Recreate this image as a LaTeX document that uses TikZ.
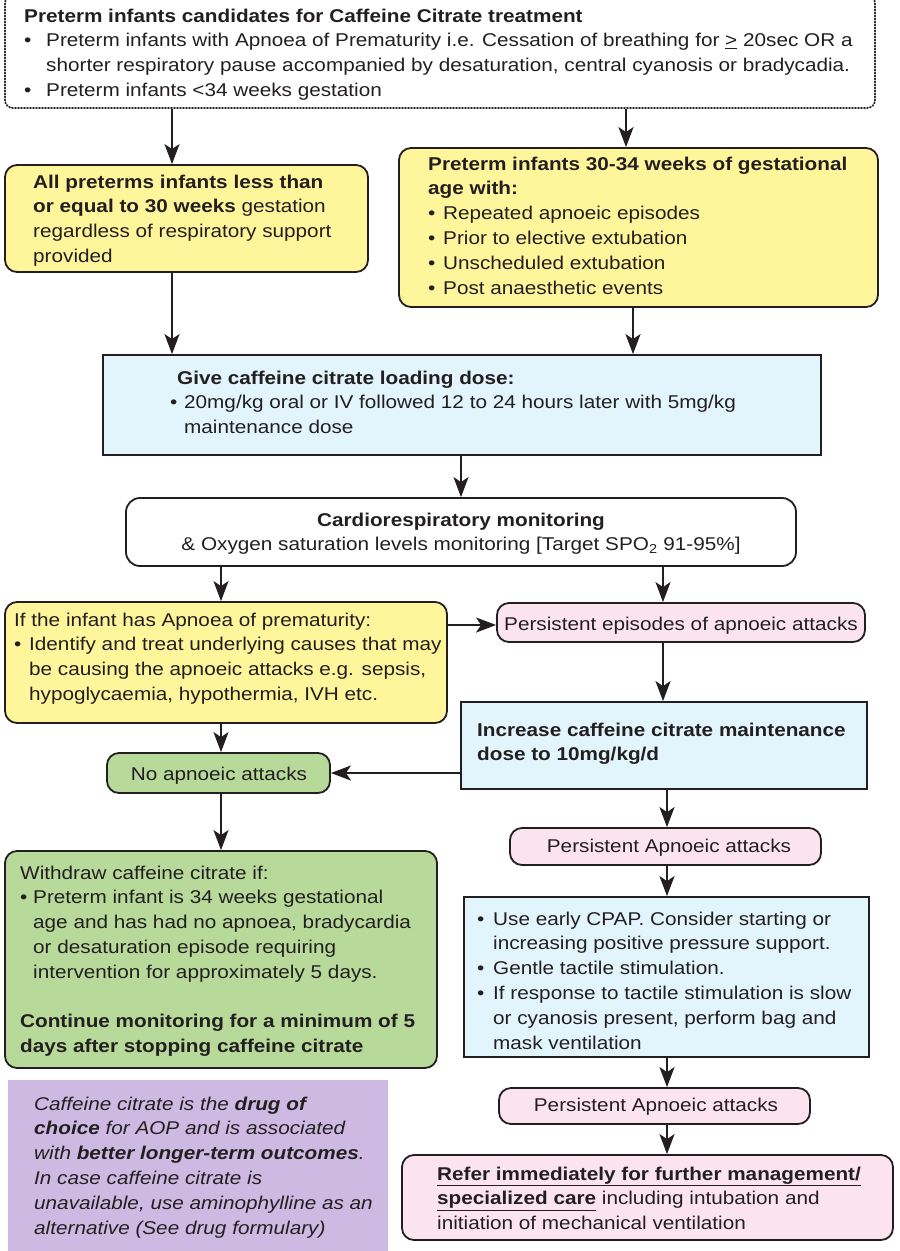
\documentclass[tikz,border=0pt]{standalone}
\usepackage{fontspec}
\setmainfont{Liberation Sans}[FakeStretch=1.12]
\usetikzlibrary{arrows.meta,fit}
\definecolor{bord}{HTML}{231F20}
\definecolor{yel}{HTML}{FFF59B}
\definecolor{blu}{HTML}{E2F4FC}
\definecolor{pnk}{HTML}{FCE4EE}
\definecolor{grn}{HTML}{B7D99A}
\definecolor{pur}{HTML}{CDB9E2}
\newcommand{\tf}{\fontsize{18.5}{24.8}\selectfont}
\newcommand{\bu}[1]{\makebox[#1][l]{\textbullet}}
\begin{document}
\begin{tikzpicture}[x=1pt,y=-1pt,
  box/.style={draw=bord, line width=1.8pt, inner sep=0pt},
  rbox/.style={box, rounded corners=12pt},
  dotbox/.style={draw=bord, line width=1.8pt, dash pattern=on 0.9pt off 2.1pt, line cap=round, rounded corners=8pt, inner sep=0pt},
  yb/.style={rbox, fill=yel},
  bb/.style={box, fill=blu},
  pb/.style={rbox, fill=pnk},
  gb/.style={rbox, fill=grn},
  wb/.style={rbox, rounded corners=14pt, fill=white},
  pub/.style={inner sep=0pt, fill=pur},
  txt/.style={inner sep=0pt, font=\tf, text=bord, anchor=base west},
  ctxt/.style={txt, anchor=base},
  arr/.style={draw=bord, line width=1.8pt, -{Stealth[length=20pt,width=15pt,inset=5pt]}}
]
\useasboundingbox (0,0) rectangle (900,1251);
\fill[white] (0,0) rectangle (900,1251);

% boxes
\node[dotbox, fit={(5,-5) (875,108)}] (top) {};
\node[yb, fit={(5,165) (368,272)}] (yl) {};
\node[yb, fit={(399,148) (878,307)}] (yr) {};
\node[bb, fit={(103,355) (821,455)}] (b1) {};
\node[wb, fit={(126,498) (796,566)}] (w) {};
\node[yb, fit={(5,602) (447,723)}] (y3) {};
\node[pb, fit={(497,603) (865,642)}] (p1) {};
\node[bb, fit={(461,702) (867,789)}] (b2) {};
\node[gb, fit={(107,753) (330,793)}] (g1) {};
\node[gb, fit={(5,851) (437,1068)}] (g2) {};
\node[pb, fit={(510,828) (821,865)}] (p2) {};
\node[bb, fit={(464,897) (869,1057)}] (b3) {};
\node[pb, fit={(499,1088) (810,1124)}] (p3) {};
\node[pb, fit={(402,1155) (893,1240)}] (p4) {};
\node[pub, fit={(8,1080) (388,1256)}] (pu) {};

% texts
\node[txt] (ttop) at (24,22) {\begin{tabular}[t]{@{}l@{}l@{}}
\multicolumn{2}{@{}l@{}}{\textbf{Preterm infants candidates for Caffeine Citrate treatment}}\\
\bu{22pt}&Preterm infants with Apnoea of Prematurity i.e. Cessation of breathing for \underline{>} 20sec OR a\\
&shorter respiratory pause accompanied by desaturation, central cyanosis or bradycadia.\\
\bu{22pt}&Preterm infants <34 weeks gestation
\end{tabular}};

\node[txt] (tyl) at (33,188) {\begin{tabular}[t]{@{}l@{}}
\textbf{All preterms infants less than}\\
\textbf{or equal to 30 weeks} gestation\\
regardless of respiratory support\\
provided
\end{tabular}};

\node[txt] (tyr) at (428,170) {\begin{tabular}[t]{@{}l@{}l@{}}
\multicolumn{2}{@{}l@{}}{\textbf{Preterm infants 30-34 weeks of gestational}}\\
\multicolumn{2}{@{}l@{}}{\textbf{age with:}}\\
\bu{15pt}&Repeated apnoeic episodes\\
\bu{15pt}&Prior to elective extubation\\
\bu{15pt}&Unscheduled extubation\\
\bu{15pt}&Post anaesthetic events
\end{tabular}};

\node[txt] (tb1) at (170,384) {\begin{tabular}[t]{@{}l@{}l@{}}
\multicolumn{2}{@{}l@{}}{\hspace*{7pt}\textbf{Give caffeine citrate loading dose:}}\\
\bu{14pt}&20mg/kg oral or IV followed 12 to 24 hours later with 5mg/kg\\
&maintenance dose
\end{tabular}};

\node[ctxt] (tw) at (461,526) {\begin{tabular}[t]{@{}c@{}}
\textbf{Cardiorespiratory monitoring}\\
\& Oxygen saturation levels monitoring [Target SPO\textsubscript{2} 91-95\%]
\end{tabular}};

\node[txt] (ty3) at (14,626) {\begin{tabular}[t]{@{}l@{}l@{}}
\multicolumn{2}{@{}l@{}}{If the infant has Apnoea of prematurity:}\\
\bu{15pt}&Identify and treat underlying causes that may\\
&be causing the apnoeic attacks e.g. sepsis,\\
&hypoglycaemia, hypothermia, IVH etc.
\end{tabular}};

\node[ctxt] (tp1) at (681,630) {Persistent episodes of apnoeic attacks};

\node[txt] (tb2) at (477,736) {\begin{tabular}[t]{@{}l@{}}
\textbf{Increase caffeine citrate maintenance}\\
\textbf{dose to 10mg/kg/d}
\end{tabular}};

\node[ctxt] (tg1) at (219,780) {No apnoeic attacks};

\node[txt] (tg2) at (20,879) {\begin{tabular}[t]{@{}l@{}l@{}}
\multicolumn{2}{@{}l@{}}{Withdraw caffeine citrate if:}\\
\bu{13pt}&Preterm infant is 34 weeks gestational\\
&age and has had no apnoea, bradycardia\\
&or desaturation episode requiring\\
&intervention for approximately 5 days.\\
\multicolumn{2}{@{}l@{}}{\mbox{}}\\
\multicolumn{2}{@{}l@{}}{\textbf{Continue monitoring for a minimum of 5}}\\
\multicolumn{2}{@{}l@{}}{\textbf{days after stopping caffeine citrate}}
\end{tabular}};

\node[ctxt] (tp2) at (669,852) {Persistent Apnoeic attacks};

\node[txt] (tb3) at (477,925) {\begin{tabular}[t]{@{}l@{}l@{}}
\bu{16pt}&Use early CPAP. Consider starting or\\
&increasing positive pressure support.\\
\bu{16pt}&Gentle tactile stimulation.\\
\bu{16pt}&If response to tactile stimulation is slow\\
&or cyanosis present, perform bag and\\
&mask ventilation
\end{tabular}};

\node[ctxt] (tp3) at (656,1111) {Persistent Apnoeic attacks};

\node[txt] (tp4) at (437,1180) {\begin{tabular}[t]{@{}l@{}}
\underline{\textbf{Refer immediately for further management/}}\\
\underline{\textbf{specialized care}} including intubation and\\
initiation of mechanical ventilation
\end{tabular}};

\node[txt] (tpu) at (34,1110) {\itshape\begin{tabular}[t]{@{}l@{}}
Caffeine citrate is the \textbf{drug of}\\
\textbf{choice} for AOP and is associated\\
with \textbf{better longer-term outcomes}.\\
In case caffeine citrate is\\
unavailable, use aminophylline as an\\
alternative (See drug formulary)
\end{tabular}};

% arrow anchor points
\coordinate (a1) at ([xshift=-14.5pt]yl.north);
\coordinate (a2) at ([xshift=-12.5pt]yr.north);
\coordinate (a3) at ([xshift=-290pt]b1.north);
\coordinate (a4) at ([xshift=171pt]b1.north);
\coordinate (a5) at ([xshift=-240pt]w.south);
\coordinate (a6) at ([xshift=202pt]w.south);
\coordinate (a7) at ([xshift=3pt]b2.south);

% connectors
\draw[arr] (top.south -| a1) -- (a1);
\draw[arr] (top.south -| a2) -- (a2);
\draw[arr] (yl.south -| a3) -- (a3);
\draw[arr] (yr.south -| a4) -- (a4);
\draw[arr] (b1.south -| w.north) -- (w.north);
\draw[arr] (a5) -- (y3.north -| a5);
\draw[arr] (a6) -- (p1.north -| a6);
\draw[arr] (y3.east |- 0,625) -- (p1.west |- 0,625);
\draw[arr] (p1.south -| a6) -- (b2.north -| a6);
\draw[arr] (y3.south -| a5) -- (g1.north -| a5);
\draw[arr] (b2.west |- 0,773) -- (g1.east |- 0,773);
\draw[arr] (g1.south -| a5) -- (g2.north -| a5);
\draw[arr] (a7) -- (p2.north -| a7);
\draw[arr] (p2.south -| a7) -- (b3.north -| a7);
\draw[arr] (b3.south -| a7) -- (p3.north -| a7);
\draw[arr] (p3.south -| a7) -- (p4.north -| a7);
\end{tikzpicture}
\end{document}
